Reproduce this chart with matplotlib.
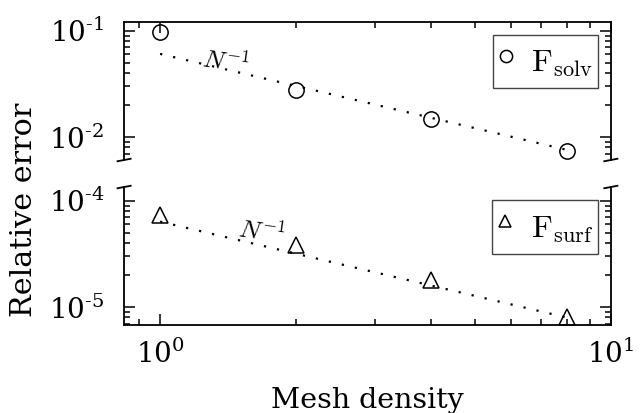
import numpy as np
import matplotlib
matplotlib.use("Agg")
from matplotlib import pyplot as plt
from matplotlib.font_manager import FontProperties
from matplotlib.ticker import LogLocator, NullFormatter, FuncFormatter

plt.rcParams['font.family'] = 'DejaVu Serif'
plt.rcParams['mathtext.fontset'] = 'dejavuserif'

# data
N = np.array([1, 2, 4, 8])
err_solv = np.array([0.098, 0.0277, 0.0147, 0.00738])
err_surf = np.array([7.4e-5, 3.85e-5, 1.8e-5, 8.1e-6])
fit_solv = 0.0607
fit_surf = 6.38e-5


def pow10(v, pos):
    e = int(np.round(np.log10(v)))
    if e < 0:
        return r'$10^{\text{-}%d}$' % (-e)
    return r'$10^{%d}$' % e


fig = plt.figure(figsize=(6.43, 4.13), dpi=100)
ax1 = fig.add_axes((0.193, 0.6126, 0.757, 0.335))
ax2 = fig.add_axes((0.193, 0.2131, 0.757, 0.3341))

cm = FontProperties(family='DejaVu Serif', size=23, math_fontfamily='cm')

ax1.plot(N, fit_solv / N, color='k', lw=1.6, ls=(0, (1, 5)))
ax1.plot(N, err_solv, 'o', mfc='none', mec='k', ms=11, mew=1.1, label=r'$\mathrm{F}_{\mathrm{solv}}$')
ax2.plot(N, fit_surf / N, color='k', lw=1.6, ls=(0, (1, 5)))
ax2.plot(N, err_surf, '^', mfc='none', mec='k', ms=11, mew=1.1, label=r'$\mathrm{F}_{\mathrm{surf}}$')

ax1.text(1.40, 0.051, r'$N^{-1}$', fontsize=18.5, math_fontfamily='cm', ha='center', va='center', rotation=-8)
ax2.text(1.68, 5.1e-5, r'$N^{-1}$', fontsize=18.5, math_fontfamily='cm', ha='center', va='center', rotation=-8)

for ax in (ax1, ax2):
    ax.set_xscale('log')
    ax.set_yscale('log')
    ax.set_xlim(0.832, 10)
    for axis in (ax.xaxis, ax.yaxis):
        axis.set_major_locator(LogLocator(base=10, numticks=20))
        axis.set_minor_locator(LogLocator(base=10, subs=np.arange(2, 10), numticks=100))
        axis.set_minor_formatter(NullFormatter())
        axis.set_major_formatter(FuncFormatter(pow10))
    ax.tick_params(which='both', direction='in', left=True, right=True, labelsize=20, width=1.1)
    ax.tick_params(which='major', length=8)
    ax.tick_params(which='minor', length=4.2)
    ax.tick_params(axis='y', pad=14.4)
    ax.tick_params(axis='x', pad=10.5)
    for s in ax.spines.values():
        s.set_linewidth(1.3)
    leg = ax.legend(loc='upper right', handlelength=0.5, handleheight=1.75, handletextpad=0.55,
                    markerscale=0.8, fancybox=False, edgecolor='#444444', framealpha=1,
                    prop=cm, borderpad=0.15, borderaxespad=0.41)
    leg.get_frame().set_linewidth(1.0)

ax1.set_ylim(0.0061, 0.122)
ax2.set_ylim(6.8e-6, 1.35e-4)

ax1.spines['bottom'].set_visible(False)
ax2.spines['top'].set_visible(False)
ax1.tick_params(which='both', bottom=False, top=True, labelbottom=False)
ax2.tick_params(which='both', top=False, bottom=True)

# break marks
dx, dy = 0.0135, 0.009
kw = dict(transform=ax1.transAxes, color='k', clip_on=False, lw=1.3)
ax1.plot((-dx, dx), (-dy, dy), **kw)
ax1.plot((1 - dx, 1 + dx), (-dy, dy), **kw)
kw.update(transform=ax2.transAxes)
ax2.plot((-dx, dx), (1 - dy, 1 + dy), **kw)
ax2.plot((1 - dx, 1 + dx), (1 - dy, 1 + dy), **kw)

fig.text(0.5715, 0.0121, 'Mesh density', fontsize=20.5, ha='center', va='baseline')
fig.text(0.038, 0.491, 'Relative error', fontsize=21.8, rotation=90, ha='center', va='center')

plt.savefig('out.png', dpi=100)
